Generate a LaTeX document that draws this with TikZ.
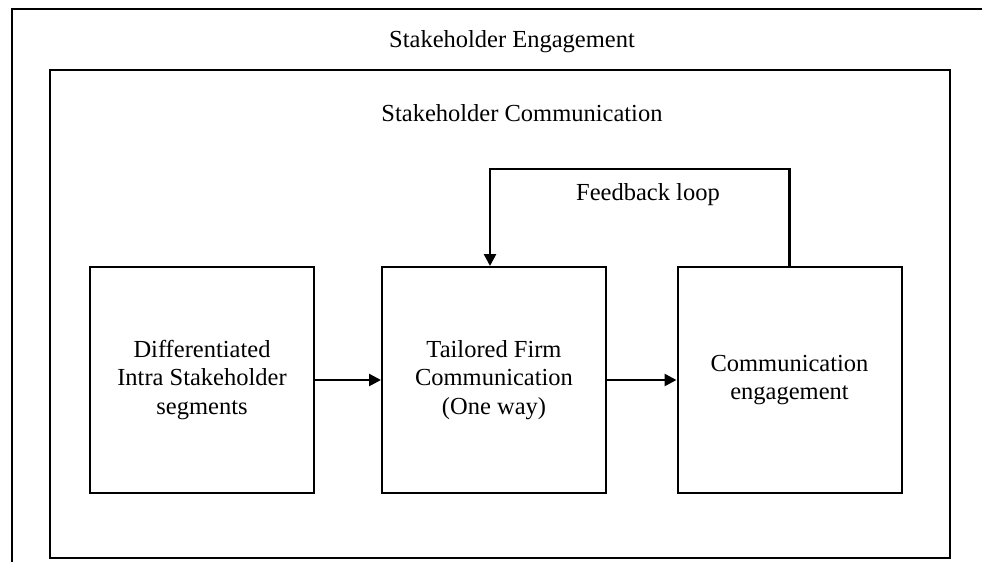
\documentclass[tikz,border=0pt]{standalone}
\usepackage{fontspec}
\setmainfont{Liberation Serif}
\usetikzlibrary{arrows.meta}

\begin{document}
\begin{tikzpicture}[x=1pt, y=-1pt, line width=2pt,
	font=\fontsize{24.5}{28.5}\selectfont,
	stagebox/.style={draw, align=center, minimum width=224pt, minimum height=226pt, inner sep=0pt},
	flow/.style={line width=2.6pt, -{Triangle[length=12pt, width=12pt]}}]

	\useasboundingbox (0, 0) rectangle (982, 562);

	% Frames
	
	\draw (982, 8.5) -- (11.5, 8.5) -- (11.5, 562);
	\draw (50, 70) rectangle (950, 558);
	
	\node (engagement) at (512, 42) {Stakeholder Engagement};
	\node (communication) at (522, 113) {Stakeholder Communication};
	
	% Stages
	
	\node [stagebox] (segments) at (202, 380) {Differentiated\\Intra Stakeholder\\segments};
	\node [stagebox] (tailored) at (494, 380) {Tailored Firm\\Communication\\(One way)};
	\node [stagebox] (response) at (789.5, 380) {Communication\\engagement};
	
	% Arrows between stages
	
	\draw [flow] (segments) -- (tailored);
	\draw [flow] (tailored) -- (response);
	\draw [flow] (response.north) -- ++(0, -97) -| ([xshift=-4pt] tailored.north);
	
	\node (loop) at (648, 195) {Feedback loop};

\end{tikzpicture}
\end{document}
